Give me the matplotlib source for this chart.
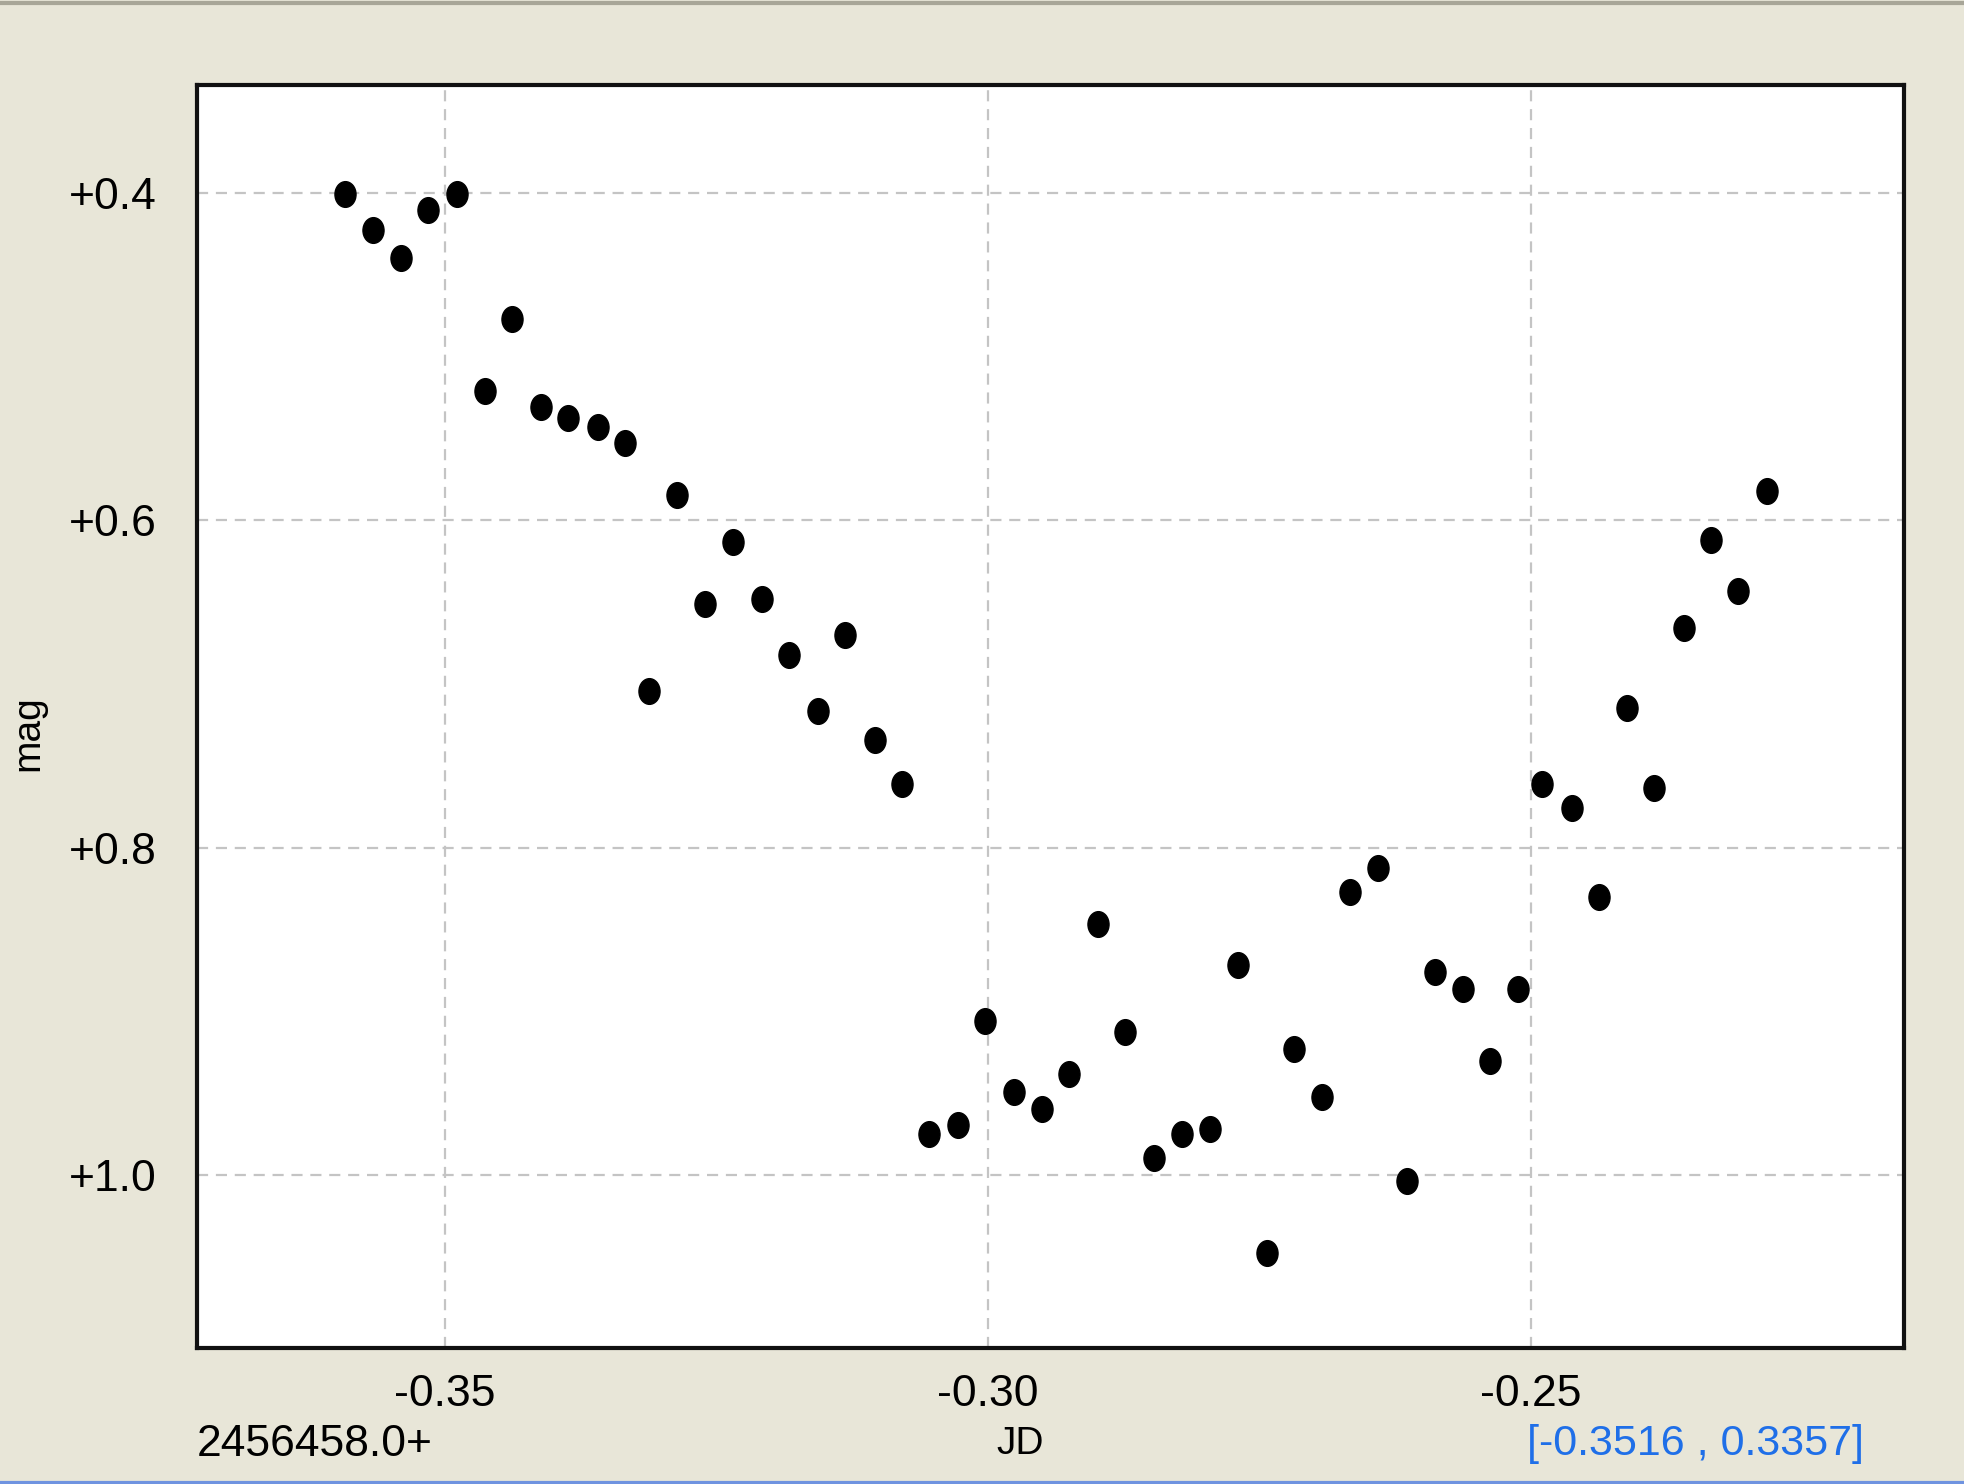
import matplotlib
matplotlib.use("Agg")
import matplotlib.pyplot as plt
from matplotlib.path import Path
from matplotlib.transforms import Affine2D
from matplotlib.lines import Line2D

# dati (JD - 2456458.0, mag)
jd = [-0.3592, -0.3566, -0.3540, -0.3515, -0.3489, -0.3438, -0.3463, -0.3411,
      -0.3386, -0.3359, -0.3334, -0.3312, -0.3286, -0.3260, -0.3234, -0.3208,
      -0.3183, -0.3156, -0.3131, -0.3104, -0.3079, -0.3054, -0.3027, -0.3002,
      -0.2976, -0.2950, -0.2925, -0.2898, -0.2873, -0.2847, -0.2821, -0.2795,
      -0.2769, -0.2743, -0.2718, -0.2692, -0.2666, -0.2640, -0.2614, -0.2588,
      -0.2562, -0.2537, -0.2512, -0.2489, -0.2462, -0.2437, -0.2411, -0.2386,
      -0.2359, -0.2334, -0.2309, -0.2282]
mag = [0.4008, 0.4230, 0.4398, 0.4107, 0.4008, 0.4773, 0.5209, 0.5309,
       0.5378, 0.5431, 0.5531, 0.7046, 0.5844, 0.6510, 0.6135, 0.6480,
       0.6824, 0.7168, 0.6701, 0.7344, 0.7612, 0.9747, 0.9694, 0.9058,
       0.9495, 0.9594, 0.9380, 0.8469, 0.9127, 0.9893, 0.9747, 0.9717,
       0.8714, 1.0474, 0.9227, 0.9525, 0.8270, 0.8125, 1.0038, 0.8760,
       0.8860, 0.9303, 0.8860, 0.7612, 0.7758, 0.8301, 0.7145, 0.7635,
       0.6656, 0.6120, 0.6434, 0.5821]
x_ticks = [-0.35, -0.30, -0.25]
x_labels = ["-0.35", "-0.30", "-0.25"]
y_ticks = [0.4, 0.6, 0.8, 1.0]
y_labels = ["+0.4", "+0.6", "+0.8", "+1.0"]
jd_base = "2456458.0+"
cursor = "[-0.3516 , 0.3357]"

font = ["Liberation Sans", "DejaVu Sans"]
bg = "#e8e6d8"

fig = plt.figure(figsize=(19.64, 14.84), dpi=100, facecolor=bg)
ax = fig.add_axes([0.1003, 0.0916, 0.8692, 0.8511])
ax.set_facecolor("white")

# marker ellittico (piu' alto che largo)
ell = Path.unit_circle().transformed(Affine2D().scale(0.82, 1.0))
ax.plot(jd, mag, linestyle="none", marker=ell, ms=18.5, color="black", zorder=3)

ax.set_xlim(-0.3728, -0.2156)
ax.set_ylim(1.1056, 0.3342)

ax.set_xticks(x_ticks)
ax.set_yticks(y_ticks)
ax.set_xticklabels(x_labels, family=font, fontsize=32)
ax.set_yticklabels(y_labels, family=font, fontsize=32)
ax.tick_params(length=0)
ax.tick_params(axis="y", pad=29)
ax.tick_params(axis="x", pad=19)
ax.grid(color="#c4c4c4", linestyle=(0, (5, 3.5)), linewidth=1.6)

for s in ax.spines.values():
    s.set_linewidth(3)
    s.set_color("#111111")

fig.text(28 / 1964, 1 - 733 / 1484, "mag", family=font, fontsize=28,
         rotation=90, ha="center", va="center")

fig.text(197 / 1964, 1 - 1444 / 1484, jd_base, family=font, fontsize=32,
         ha="left", va="center")
fig.text(1020 / 1964, 1 - 1444 / 1484, "JD", family=font, fontsize=28,
         ha="center", va="center")
fig.text(1864 / 1964, 1 - 1444 / 1484, cursor, family=font, fontsize=31,
         ha="right", va="center", color="#1f6fe8")

# bordi della finestra
fig.add_artist(Line2D([0, 1], [1 - 3 / 1484] * 2, color="#a8a698", lw=3,
                      transform=fig.transFigure))
fig.add_artist(Line2D([0, 1], [1.5 / 1484] * 2, color="#6f93e0", lw=3,
                      transform=fig.transFigure))

fig.savefig("out.png", dpi=100, facecolor=bg)
